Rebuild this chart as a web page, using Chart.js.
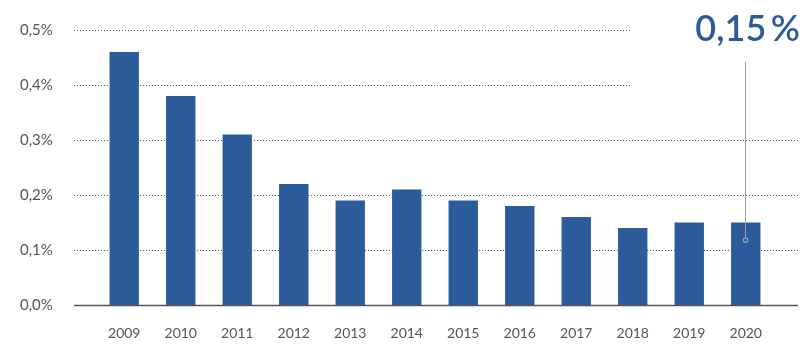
<!DOCTYPE html>
<html>
<head>
<meta charset="utf-8">
<script src="https://cdn.jsdelivr.net/npm/chart.js@4/dist/chart.umd.min.js"></script>
<style>
  html, body { margin: 0; padding: 0; background: #fff; }
  #wrap { width: 808px; height: 354px; }
</style>
</head>
<body>
<div id="wrap"><canvas id="chart"></canvas></div>
<script>
// data
const years = ['2009','2010','2011','2012','2013','2014','2015','2016','2017','2018','2019','2020'];
const rates = [0.46, 0.38, 0.31, 0.22, 0.19, 0.21, 0.19, 0.18, 0.16, 0.14, 0.15, 0.15];
const yTicks = [0, 0.1, 0.2, 0.3, 0.4, 0.5];
const highlightLabel = '0,15\u2009%';

const blue = '#2b5b9b';
const grey = '#555';

const fmt = v => v.toFixed(1).replace('.', ',') + '%';

// dotted grid + baseline + callout
const extras = {
  id: 'extras',
  beforeDatasetsDraw(chart) {
    const { ctx } = chart;
    const y = chart.scales.y;
    ctx.save();
    ctx.strokeStyle = grey;
    ctx.lineWidth = 1;
    ctx.setLineDash([1, 2]);
    yTicks.forEach(v => {
      if (v === 0) return;
      const py = Math.round(y.getPixelForValue(v)) + 0.5;
      ctx.beginPath();
      ctx.moveTo(74, py);
      ctx.lineTo(v >= 0.4 ? 632 : 798, py);
      ctx.stroke();
    });
    ctx.restore();
  },
  afterDatasetsDraw(chart) {
    const { ctx } = chart;
    const y = chart.scales.y;
    const x = chart.scales.x;
    ctx.save();
    // baseline
    const by = Math.round(y.getPixelForValue(0)) + 0.5;
    ctx.strokeStyle = grey;
    ctx.lineWidth = 1.5;
    ctx.beginPath();
    ctx.moveTo(74, by);
    ctx.lineTo(798, by);
    ctx.stroke();
    // callout on last bar
    const last = years.length - 1;
    const cx = Math.round(x.getPixelForValue(last)) - 0.5;
    const cy = y.getPixelForValue(0.118);
    ctx.strokeStyle = '#a0a0a0';
    ctx.lineWidth = 1;
    ctx.beginPath();
    ctx.moveTo(cx, 62);
    ctx.lineTo(cx, cy - 2.5);
    ctx.stroke();
    ctx.lineWidth = 1.2;
    ctx.beginPath();
    ctx.arc(cx, cy, 2.3, 0, Math.PI * 2);
    ctx.stroke();
    // big label
    ctx.fillStyle = blue;
    ctx.font = '600 36px Lato';
    ctx.textAlign = 'right';
    ctx.textBaseline = 'alphabetic';
    ctx.fillText(highlightLabel, 800, 41);
    ctx.restore();
  }
};

new Chart(document.getElementById('chart'), {
  type: 'bar',
  data: {
    labels: years,
    datasets: [{
      data: rates,
      backgroundColor: blue,
      barPercentage: 0.52,
      categoryPercentage: 1
    }]
  },
  options: {
    responsive: true,
    maintainAspectRatio: false,
    animation: false,
    layout: { padding: { top: 30, right: 34, left: 20, bottom: 0 } },
    plugins: { legend: { display: false }, tooltip: { enabled: false } },
    scales: {
      x: {
        grid: { display: false, drawTicks: false },
        border: { display: false },
        ticks: { color: grey, font: { family: 'Lato', size: 14 }, padding: 20, maxRotation: 0 },
        afterFit(s) { s.height = 49; }
      },
      y: {
        min: 0,
        max: 0.5,
        grid: { display: false, drawTicks: false },
        border: { display: false },
        afterBuildTicks(s) { s.ticks = yTicks.map(v => ({ value: v })); },
        ticks: { color: grey, font: { family: 'Lato', size: 15 }, padding: 0, crossAlign: 'far', callback: v => fmt(v) },
        afterFit(s) { s.width = 76; }
      }
    }
  },
  plugins: [extras]
});
</script>
</body>
</html>
